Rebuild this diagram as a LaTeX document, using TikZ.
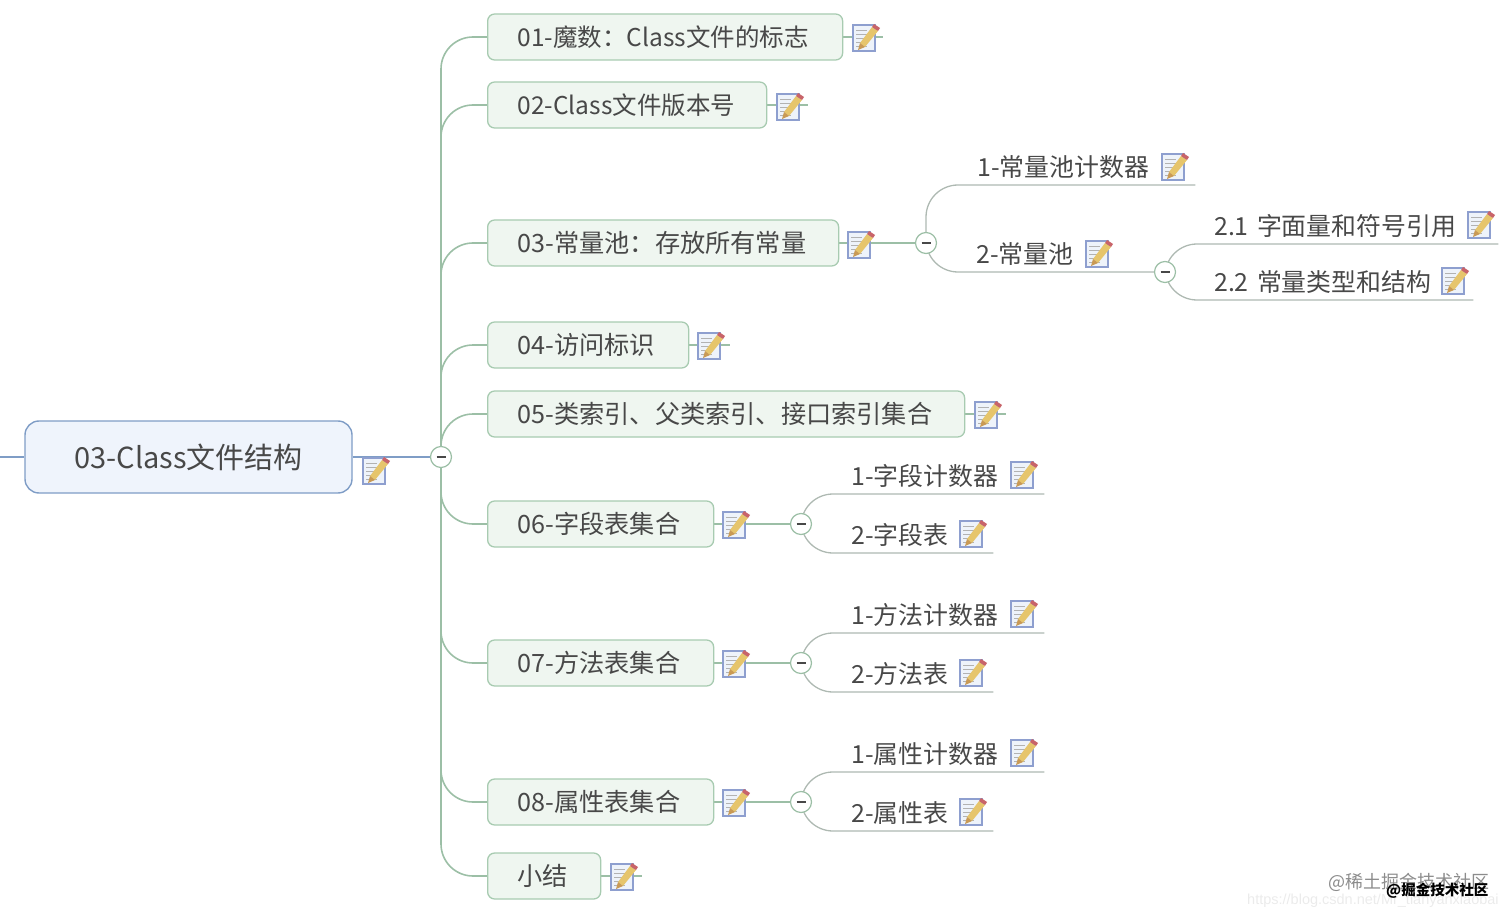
\documentclass[tikz,border=0pt]{standalone}
\usepackage{fontspec}
\setmainfont{Noto Sans CJK SC}
\newfontfamily\latinwm{Liberation Sans}
\usetikzlibrary{backgrounds}
\definecolor{txt}{HTML}{484848}
\definecolor{trunkc}{HTML}{9CBFA6}
\definecolor{subc}{HTML}{AEB9B2}
\definecolor{rootb}{HTML}{7F9DC6}
\definecolor{rootf}{HTML}{EFF4FC}
\definecolor{boxb}{HTML}{A8CBB1}
\definecolor{boxf}{HTML}{EFF6F0}
\definecolor{iconb}{HTML}{8E9FCF}
\definecolor{iconf}{HTML}{EEF3FA}
\definecolor{pencil}{HTML}{E6C56C}
\definecolor{penciltip}{HTML}{C99A55}
\definecolor{pencilend}{HTML}{C8646A}
\tikzset{
  x=1pt,y=-1pt,
  rootbox/.style={draw=rootb,fill=rootf,line width=1.4pt,rounded corners=14pt,minimum width=327pt,minimum height=72pt,inner sep=0pt,text=txt,font=\fontsize{29}{32}\selectfont},
  topic/.style={anchor=west,draw=boxb,fill=boxf,line width=1.3pt,rounded corners=7pt,minimum height=46pt,inner xsep=30pt,inner ysep=0pt,align=left,text=txt,font=\fontsize{25.2}{28}\selectfont},
  topicl/.style={topic,font=\fontsize{24.5}{28}\selectfont},
  subt/.style={anchor=south west,inner xsep=0pt,inner ysep=3pt,align=left,text height=19pt,text depth=5pt,text=txt,font=\fontsize{24.9}{28}\selectfont},
  fold/.style={circle,draw=#1,fill=white,line width=1.2pt,minimum size=21pt,inner sep=0pt,path picture={\draw[txt,line width=1.3pt] (path picture bounding box.center)+(-4.5,0) -- +(4.5,0);}},
  fold/.default=trunkc,
  trunk/.style={draw=trunkc,line width=1.6pt,rounded corners=32pt},
  stub/.style={draw=trunkc,line width=1.3pt},
  subl/.style={draw=subc,line width=1.3pt,rounded corners=32pt},
  rootl/.style={draw=rootb,line width=1.5pt},
  noteicon/.pic={
    \draw[draw=iconb,fill=iconf,line width=1.3pt] (-11,-13) rectangle (11,13);
    \foreach \yy in {-8,-4,0,4,8} \draw[gray!60,line width=.9pt] (-8,\yy) -- (3,\yy);
    \fill[pencil] (8,-11) -- (14,-7) -- (1,9) -- (-4,5) -- cycle;
    \fill[penciltip] (1,9) -- (-4,5) -- (-6,12) -- cycle;
    \fill[pencilend] (8,-11) -- (10,-14) -- (16,-10) -- (14,-7) -- cycle;
  },
  wm/.style={anchor=west,inner sep=0pt}
}
\begin{document}
\begin{tikzpicture}
\useasboundingbox (0,0) rectangle (1512,917);
% root
\node[rootbox] (root) at (188.5,457) {03-Class文件结构};
\coordinate (rootin) at (0,457);
\node[fold] (cm) at (441,457) {};
% main topics
\node[topicl,text width=295pt] (b1) at (487,37) {01-魔数：Class文件的标志};
\node[topicl,text width=219pt] (b2) at (487,105) {02-Class文件版本号};
\node[topic,text width=291pt] (b3) at (487,243) {03-常量池：存放所有常量};
\node[topic,text width=141pt] (b4) at (487,345) {04-访问标识};
\node[topic,text width=417pt] (b5) at (487,414) {05-类索引、父类索引、接口索引集合};
\node[topic,text width=166pt] (b6) at (487,524) {06-字段表集合};
\node[topic,text width=166pt] (b7) at (487,663) {07-方法表集合};
\node[topic,text width=166pt] (b8) at (487,802) {08-属性表集合};
\node[topic,text width=53pt] (b9) at (487,876) {小结};
% stub ends
\coordinate (e1) at (883,37);
\coordinate (e2) at (808,105);
\coordinate (e4) at (730,345);
\coordinate (e5) at (1006,414);
\coordinate (e9) at (642,876);
% fold circles
\node[fold] (c3) at (926,243) {};
\node[fold] (c3b) at (1165,272) {};
\node[fold] (c6) at (801,524) {};
\node[fold] (c7) at (801,663) {};
\node[fold] (c8) at (801,802) {};
% subtopics
\node[subt,text width=218pt] (s31) at (977,185) {1-常量池计数器};
\node[subt,text width=189pt] (s32) at (976,272) {2-常量池};
\node[subt,text width=284pt] (s321) at (1214,244) {2.1 字面量和符号引用};
\node[subt,text width=259pt] (s322) at (1214,300) {2.2 常量类型和结构};
\node[subt,text width=193pt] (s61) at (851,494) {1-字段计数器};
\node[subt,text width=142pt] (s62) at (851,553) {2-字段表};
\node[subt,text width=193pt] (s71) at (851,633) {1-方法计数器};
\node[subt,text width=142pt] (s72) at (851,692) {2-方法表};
\node[subt,text width=193pt] (s81) at (851,772) {1-属性计数器};
\node[subt,text width=142pt] (s82) at (851,831) {2-属性表};
% icons
\foreach \ix/\iy in {864/38,788/107,859/245,709/346,986/415,734/525,734/664,734/803,622/877,374/471,
  1173/167,1097/254,1479/225,1453/281,1022/475,971/534,1022/614,971/673,1022/753,971/812}
  \pic at (\ix,\iy) {noteicon};
% connectors
\begin{scope}[on background layer]
  \draw[rootl] (rootin) -- (root.west);
  \draw[rootl] (root.east) -- (cm.center);
  \foreach \b in {b1,b2,b3,b4,b5,b6,b7,b8,b9}
    \draw[trunk] (cm.center) |- (\b.west);
  \draw[stub] (b1.east) -- (e1);
  \draw[stub] (b2.east) -- (e2);
  \draw[stub] (b3.east) -- (c3.center);
  \draw[stub] (b4.east) -- (e4);
  \draw[stub] (b5.east) -- (e5);
  \draw[stub] (b6.east) -- (c6.center);
  \draw[stub] (b7.east) -- (c7.center);
  \draw[stub] (b8.east) -- (c8.center);
  \draw[stub] (b9.east) -- (e9);
  \draw[subl] (c3.center) |- (s31.south east);
  \draw[subl] (c3.center) |- (s32.south east);
  \draw[subl] (c3b.center) |- (s321.south east);
  \draw[subl] (c3b.center) |- (s322.south east);
  \draw[subl] (c6.center) |- (s61.south east);
  \draw[subl] (c6.center) |- (s62.south east);
  \draw[subl] (c7.center) |- (s71.south east);
  \draw[subl] (c7.center) |- (s72.south east);
  \draw[subl] (c8.center) |- (s81.south east);
  \draw[subl] (c8.center) |- (s82.south east);
\end{scope}
% watermarks
\node[wm,text=black!8,font=\latinwm\fontsize{14.5}{18}\selectfont] (wm3) at (1247,901) {https://blog.csdn.net/Mr\_tianyanxiaobai};
\node[wm,text=black!45,font=\fontsize{18}{20}\selectfont] (wm1) at (1328,882) {@稀土掘金技术社区};
\node[wm,text=black,font=\bfseries\fontsize{14.5}{16}\selectfont] (wm2) at (1386,891) {@掘金技术社区};
\end{tikzpicture}
\end{document}
